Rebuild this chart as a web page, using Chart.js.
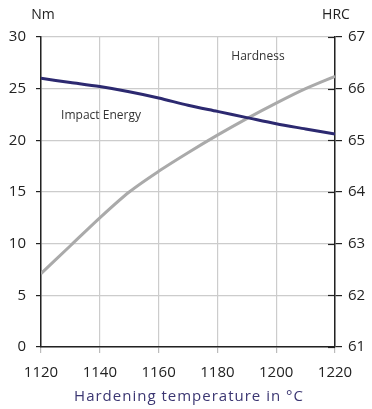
<!DOCTYPE html>
<html>
<head>
<meta charset="utf-8">
<script src="https://cdn.jsdelivr.net/npm/chart.js@4"></script>
<style>
  html, body { margin: 0; padding: 0; background: #fff; }
  #wrap { width: 372px; height: 409px; }
</style>
</head>
<body>
<div id="wrap"><canvas id="chart" width="372" height="409"></canvas></div>
<script>
const temps = [1120, 1130, 1140, 1150, 1160, 1170, 1180, 1190, 1200, 1210, 1220];
const impactEnergy = [26.0, 25.6, 25.2, 24.7, 24.1, 23.4, 22.8, 22.2, 21.6, 21.1, 20.6];
const hardness = [62.42, 62.96, 63.5, 64.0, 64.4, 64.76, 65.1, 65.42, 65.72, 66.0, 66.24];

const font = "'Open Sans', sans-serif";

// extra texts + inward ticks on right axis
const extras = {
  id: "extras",
  afterDraw(chart) {
    const c = chart.ctx;
    const area = chart.chartArea;
    const y1 = chart.scales.y1;
    c.save();
    c.strokeStyle = "#222";
    c.lineWidth = 1.2;
    y1.ticks.forEach(t => {
      const py = Math.round(y1.getPixelForValue(t.value)) + 0.5;
      c.beginPath();
      c.moveTo(area.right - 7, py);
      c.lineTo(area.right, py);
      c.stroke();
    });
    c.fillStyle = "#222";
    c.font = "14px " + font;
    c.textAlign = "center";
    c.textBaseline = "middle";
    c.fillText("Nm", 43, 15);
    c.fillText("HRC", 336, 15);
    c.font = "12px " + font;
    c.fillStyle = "#333";
    c.fillText("Hardness", 258, 57);
    c.fillText("Impact Energy", 101, 116);
    c.font = "15px " + font;
    c.letterSpacing = "1px";
    c.fillStyle = "#3b3672";
    c.fillText("Hardening temperature in \u00B0C", 189, 397);
    c.restore();
  }
};

new Chart(document.getElementById("chart"), {
  type: "line",
  data: {
    datasets: [{
      label: "Impact Energy",
      data: temps.map((t, i) => ({ x: t, y: impactEnergy[i] })),
      borderColor: "#2c2970",
      borderWidth: 3,
      pointRadius: 0,
      tension: 0.3,
      yAxisID: "y"
    }, {
      label: "Hardness",
      data: temps.map((t, i) => ({ x: t, y: hardness[i] })),
      borderColor: "#aaaaaa",
      borderWidth: 3,
      pointRadius: 0,
      tension: 0.3,
      yAxisID: "y1"
    }]
  },
  options: {
    responsive: false,
    animation: false,
    layout: { padding: { top: 37, bottom: 0, left: 0, right: 0 } },
    plugins: {
      legend: { display: false },
      tooltip: { enabled: false }
    },
    scales: {
      x: {
        type: "linear",
        min: 1120,
        max: 1220,
        ticks: { stepSize: 20, color: "#222", padding: 11, font: { family: font, size: 15 },
                 callback: v => String(v) },
        grid: { color: "#cccccc", lineWidth: 1.2, tickLength: 6, tickColor: "#bbbbbb" },
        border: { color: "#222", width: 1.5 },
        afterFit(s) { s.height = 62; }
      },
      y: {
        position: "left",
        min: 0,
        max: 30,
        ticks: { stepSize: 5, color: "#222", padding: 10, font: { family: font, size: 15 } },
        grid: { color: "#cccccc", lineWidth: 1.2, tickLength: 5, tickColor: "#222" },
        border: { color: "#222", width: 1.5 },
        afterFit(s) { s.width = 41; }
      },
      y1: {
        position: "right",
        min: 61,
        max: 67,
        ticks: { stepSize: 1, color: "#222", padding: 6, font: { family: font, size: 15 } },
        grid: { drawOnChartArea: false, tickLength: 7, tickColor: "#222", lineWidth: 1.2 },
        border: { color: "#222", width: 1.5 },
        afterFit(s) { s.width = 37; }
      }
    }
  },
  plugins: [extras]
});
</script>
</body>
</html>
